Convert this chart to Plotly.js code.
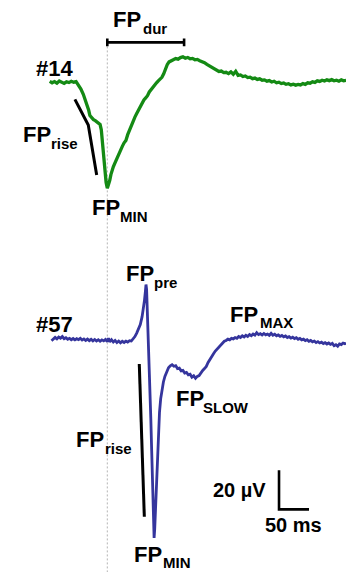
<!DOCTYPE html>
<html>
<head>
<meta charset="utf-8">
<script src="https://cdn.plot.ly/plotly-3.0.1.min.js"></script>
<style>
  html, body { margin: 0; padding: 0; background: #ffffff; }
  #plot { width: 346px; height: 572px; }
</style>
</head>
<body>
<div id="plot"></div>
<script>
// Field potential waveforms of two units (#14, #57).
// Time in ms relative to the FP minimum of unit #14; amplitude in µV relative to each baseline.

const unit14Time = [-96,-92,-88,-84,-80,-76,-72,-68,-64,-60,-56,-52,-48,-44,-40,-36,-33,-31,-29,-26,-23,-20,-17,-14,-12,-10,-8,-6,-4,-2,0,2,4,6,8,10,13,16,19,22,25,28,31,34,37,40,43,46,49,52,55,58,61,64,67,70,73,76,79,82,85,88,91,94,97,100,103,106,110,114,118,122,126,130,134,138,142,146,150,154,158,162,166,170,174,178,182,186,190,194,198,202,206,210,214,218,222,226,230,234,238,242,246,250,254,258,262,266,270,274,278,282,286,290,294,298,302,306,310,314,318,322,326,330,334,338,342,346,350,354,358,362,366,370,374,378,382,386,390,394,398];
const unit14Amp = [0.3,-0.4,0.2,-0.6,0.5,-0.2,-0.7,0.1,-0.3,0.4,-0.1,0.2,-1.5,-3.6,-6.3,-9.5,-11.8,-14.5,-17.2,-18.4,-19.3,-19.8,-20.6,-21.0,-21.8,-24.5,-31,-39,-46,-51.5,-54.5,-53,-50.5,-47.5,-45,-43.5,-41.3,-39,-37.2,-34.6,-33,-31.2,-30,-27,-24.5,-22,-19.8,-18,-16.2,-14.3,-12.6,-10.8,-9.2,-8.2,-7.0,-5.1,-3.8,-2.6,-1.3,-0.4,0.6,1.6,2.4,4.2,7.0,9.0,10.3,11.0,11.4,12.0,11.7,12.5,12.9,12.2,12.6,11.9,12.1,11.4,11.6,10.9,10.6,9.9,9.0,8.2,7.4,6.6,5.8,5.4,5.6,4.8,5.0,4.3,5.2,4.0,5.5,3.4,3.6,2.8,3.1,2.3,2.5,1.7,2.0,1.3,1.6,0.9,1.1,0.4,0.7,0.0,0.4,-0.4,-0.1,-0.8,-0.5,-1.2,-0.9,-1.5,-1.1,-1.6,-1.2,-1.5,-0.8,-1.2,-0.4,-0.6,0.1,-0.2,0.6,0.3,0.9,0.5,1.1,0.7,1.2,0.6,0.9,0.4,1.1,0.6,0.9];

const unit57Time = [-93,-90,-87,-84,-81,-78,-75,-72,-69,-66,-63,-60,-57,-54,-51,-48,-45,-42,-39,-36,-33,-30,-27,-24,-21,-18,-15,-12,-9,-6,-3,0,2,4,7,10,13,16,19,22,25,28,31,34,37,40,43,46,49,52,55,58,60,62,63.5,64.5,65.5,66.5,68,69.5,71,72.5,74,75.5,77,78,79,80.5,82,83.5,85,87,89,91,93.5,96,99,102,105,108,111,114,117,120,123,126,129,132,135,138,141,144,147,150,153,156,159,162,165,168,171,174,177,180,183,186,189,192,195,198,201,204,207,210,213,216,219,222,225,228,231,234,237,240,243,246,249,252,255,258,261,264,267,270,273,276,279,282,285,288,291,294,297,300,303,306,309,312,315,318,321,324,327,330,333,336,339,342,345,348,351,354,357,360,363,366,369,372,375,378,381,384,387,390,393,396,398];
const unit57Amp = [-0.3,0.8,1.4,0.6,1.6,1.0,1.8,0.7,1.2,0.4,0.9,0.2,0.8,0.1,0.7,0.2,0.9,0.0,0.6,-0.2,0.5,-0.3,0.4,-0.4,0.3,-0.5,0.2,-0.6,0.1,-0.4,0.3,-0.8,1.0,-0.9,0.2,-1.0,-0.2,-1.3,-0.5,-1.4,-0.6,-1.2,-0.5,-1.0,-0.3,-0.5,0.4,1.8,3.6,5.5,8.0,12.0,15.5,20.5,25,28.5,26,18,6,-8,-24,-40,-57,-73,-90,-101.5,-97,-86,-74,-60,-47.5,-37,-30,-25.5,-21.5,-18.6,-16,-14.2,-13.2,-12.6,-13.4,-13.1,-14.6,-14.4,-15.8,-15.5,-16.9,-16.6,-17.8,-17.5,-19.0,-18.3,-19.6,-18.6,-18.2,-16.5,-15.6,-14.6,-13.5,-11.5,-9.8,-8.0,-7.0,-5.6,-4.6,-3.8,-2.6,-1.7,-0.6,-0.2,0.5,0.1,0.9,0.6,1.3,0.9,1.8,1.3,2.2,1.6,2.5,1.9,2.8,2.2,3.1,2.5,3.8,2.8,3.3,2.6,3.4,2.7,3.1,2.4,3.5,2.5,3.0,2.2,2.7,1.9,2.4,1.7,2.1,1.3,1.8,1.0,1.5,0.8,1.2,0.4,0.9,0.1,0.5,-0.3,0.2,-0.6,-0.2,-0.9,-0.5,-1.3,-0.8,-1.5,-1.1,-1.8,-1.3,-2.0,-1.5,-2.2,-1.7,-2.9,-2.4,-3.2,-2.0,-2.3,-1.5,-1.9,-1.6];

// FP_rise guide lines (time ms, amplitude µV relative to the unit baseline)
const rise14Time = [-54, -31.7, -17.7];
const rise14Amp  = [-8.9, -22.1, -47.7];
const rise57Time = [53.3, 61.7];
const rise57Amp  = [-12.3, -90.6];

// FP_dur: from FP minimum to FP maximum of unit #14, drawn above the trace
const durStart = 0;
const durEnd = 128;
const durLevel = 20.3;

// scale bar
const scaleMs = 50;
const scaleUv = 20;

// vertical baseline offsets used to stack the two units (µV)
const offset14 = -42.05;
const offset57 = -174.4;

const W = 346, H = 572;
const PX_PER_MS = 0.6, PX_PER_UV = 1.95;
const zeroPx = 107.3;
const xRange = [-zeroPx / PX_PER_MS, (W - zeroPx) / PX_PER_MS];
const yRange = [-H / PX_PER_UV, 0];

const green = '#148a14';
const blue = '#35359d';
const black = '#000000';

const shift = (arr, off) => arr.map(v => v + off);

const traces = [
  { // dotted reference line at FP minimum of #14
    x: [durStart, durStart], y: [durLevel + offset14, yRange[0]],
    mode: 'lines', line: {color: '#b4b4b4', width: 1, dash: '2px,2px'}, hoverinfo: 'skip'
  },
  {
    x: unit14Time, y: shift(unit14Amp, offset14),
    mode: 'lines', line: {color: green, width: 3.3}, hoverinfo: 'skip'
  },
  {
    x: unit57Time, y: shift(unit57Amp, offset57),
    mode: 'lines', line: {color: blue, width: 2.8}, hoverinfo: 'skip'
  },
  {
    x: rise14Time, y: shift(rise14Amp, offset14),
    mode: 'lines', line: {color: black, width: 3}, hoverinfo: 'skip'
  },
  {
    x: rise57Time, y: shift(rise57Amp, offset57),
    mode: 'lines', line: {color: black, width: 3}, hoverinfo: 'skip'
  },
  { // FP_dur bar with end ticks
    x: [durStart, durStart, durStart, durEnd, durEnd, durEnd],
    y: shift([durLevel + 2, durLevel - 2, durLevel, durLevel, durLevel + 2, durLevel - 2], offset14),
    mode: 'lines', line: {color: black, width: 2.6}, hoverinfo: 'skip'
  }
];

// scale bar corner
const sbT = 286.2, sbV = -261.2;
traces.push({
  x: [sbT, sbT, sbT + scaleMs], y: [sbV + scaleUv, sbV, sbV],
  mode: 'lines', line: {color: black, width: 2.6}, hoverinfo: 'skip'
});

const fontFamily = '"Liberation Sans", Arial, Helvetica, sans-serif';
const MAIN = 22, SUB = 15, SCALE = 20;

// text placed by its left edge and baseline (pixels from top-left)
function text(str, leftPx, baselinePx, size) {
  return {
    xref: 'paper', yref: 'paper',
    x: (leftPx - 2) / W, y: 1 - (baselinePx - 0.35 * size) / H,
    xanchor: 'left', yanchor: 'middle',
    text: str, showarrow: false,
    font: {family: fontFamily, size: size, color: black, weight: 700}
  };
}
// "FP" with a subscript directly after it
function fpLabel(sub, leftPx, baselinePx, subLeftPx, subBaselinePx) {
  return [text('FP', leftPx, baselinePx, MAIN), text(sub, subLeftPx - 2, subBaselinePx, SUB)];
}

const annotations = [
  text('#14', 36, 76, MAIN),
  text('#57', 36, 331.7, MAIN),
  ...fpLabel('dur', 113, 26.7, 145, 33.3),
  ...fpLabel('rise', 23, 141.7, 53.3, 149),
  ...fpLabel('MIN', 92, 215, 121.7, 221.7),
  ...fpLabel('pre', 126, 281.7, 156, 287.5),
  ...fpLabel('rise', 76, 446.7, 106.7, 453.3),
  ...fpLabel('MIN', 134.3, 561.7, 165, 568),
  ...fpLabel('SLOW', 175.7, 406, 205, 412.3),
  ...fpLabel('MAX', 230, 321.7, 261.7, 327.3),
  text('20 µV', 213.3, 496.7, SCALE),
  text('50 ms', 265, 531.7, SCALE)
];

const layout = {
  width: W, height: H,
  margin: {l: 0, r: 0, t: 0, b: 0, pad: 0},
  paper_bgcolor: '#ffffff', plot_bgcolor: '#ffffff',
  showlegend: false,
  xaxis: {range: xRange, visible: false, fixedrange: true},
  yaxis: {range: yRange, visible: false, fixedrange: true},
  annotations: annotations
};

Plotly.newPlot('plot', traces, layout, {displayModeBar: false, staticPlot: true});
</script>
</body>
</html>
